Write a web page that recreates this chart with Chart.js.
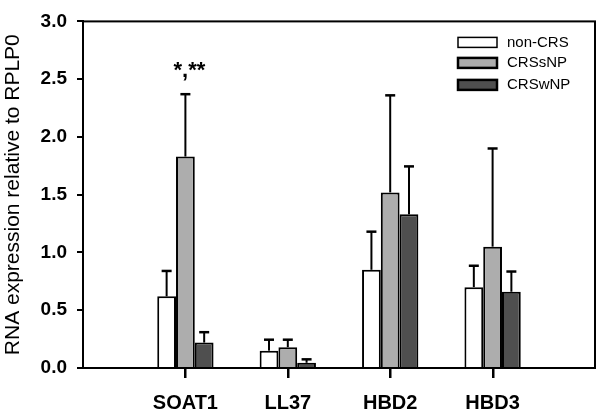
<!DOCTYPE html>
<html><head><meta charset="utf-8">
<script src="https://cdn.jsdelivr.net/npm/chart.js@4"></script>
<style>html,body{margin:0;padding:0;background:#fff}#wrap{width:601px;height:418px;position:relative}</style>
</head><body><div id="wrap"><canvas id="c"></canvas></div>
<script>
// ---- data ----
const categories = ['SOAT1', 'LL37', 'HBD2', 'HBD3'];
const seriesNames = ['non-CRS', 'CRSsNP', 'CRSwNP'];
const nonCRS = [0.62, 0.15, 0.85, 0.70];
const nonCRSErr = [0.22, 0.095, 0.33, 0.185];
const crsSNP = [1.83, 0.18, 1.52, 1.05];
const crsSNPErr = [0.54, 0.065, 0.84, 0.85];
const crsWNP = [0.22, 0.045, 1.33, 0.66];
const crsWNPErr = [0.09, 0.03, 0.415, 0.175];
const yTicks = [0, 0.5, 1.0, 1.5, 2.0, 2.5, 3.0];
const annotText = '*,**';
const annotCategory = 0;   // SOAT1
const annotSeries = 1;     // CRSsNP
const annotValue = 2.52;

const colors = ['#ffffff', '#adadad', '#4f4f4f'];
const pad = a => [null, ...a, null];
const labels = ['', ...categories, ''];

const SANS = "'Liberation Sans', Arial, sans-serif";

const errPlugin = {
  id: 'errbars',
  afterDatasetsDraw(chart) {
    const ctx = chart.ctx, ys = chart.scales.y;
    chart.data.datasets.forEach((ds, di) => {
      const meta = chart.getDatasetMeta(di);
      meta.data.forEach((bar, i) => {
        const v = ds.data[i], e = ds.errors[i];
        if (v == null || e == null) return;
        const x = bar.x, y0 = ys.getPixelForValue(v), y1 = ys.getPixelForValue(v + e);
        ctx.save();
        ctx.strokeStyle = '#000';
        ctx.lineWidth = 2;
        ctx.beginPath(); ctx.moveTo(x, y0); ctx.lineTo(x, y1); ctx.stroke();
        ctx.lineWidth = 2.5;
        ctx.beginPath(); ctx.moveTo(x - 5, y1); ctx.lineTo(x + 5, y1); ctx.stroke();
        ctx.restore();
      });
    });
    const bar = chart.getDatasetMeta(annotSeries).data[annotCategory + 1];
    ctx.save();
    ctx.fillStyle = '#000';
    ctx.font = "bold 22px " + SANS;
    ctx.textAlign = 'center';
    ctx.textBaseline = 'alphabetic';
    ctx.fillText(annotText, bar.x + 4, ys.getPixelForValue(annotValue));
    ctx.restore();
  },
  afterDraw(chart) {
    const ctx = chart.ctx, a = chart.chartArea, xs = chart.scales.x;
    ctx.save();
    ctx.strokeStyle = '#000';
    ctx.lineWidth = 2;
    ctx.strokeRect(a.left, a.top, a.right - a.left, a.bottom - a.top);
    // category tick marks
    ctx.fillStyle = '#000';
    for (let i = 1; i <= categories.length; i++) {
      let px = xs.getPixelForValue(i);
      if (!isFinite(px)) px = a.left + (a.right - a.left) * i / (labels.length - 1);
      ctx.fillRect(Math.round(px) - 1, a.bottom, 2.5, 10);
    }
    // legend
    const bx = a.right - 137, tx = a.right - 88;
    const rows = [a.top + 21, a.top + 41.5, a.top + 63.5];
    ctx.font = "15px " + SANS;
    ctx.textBaseline = 'middle';
    ctx.textAlign = 'left';
    seriesNames.forEach((n, i) => {
      ctx.fillStyle = colors[i];
      ctx.fillRect(bx, rows[i] - 5, 39, 10);
      ctx.lineWidth = i === 0 ? 1.5 : 2.5;
      ctx.strokeStyle = '#000';
      ctx.strokeRect(bx, rows[i] - 5, 39, 10);
      ctx.fillStyle = '#000';
      ctx.fillText(n, tx, rows[i]);
    });
    ctx.restore();
  }
};

new Chart(document.getElementById('c'), {
  type: 'bar',
  data: {
    labels: labels,
    datasets: [
      { label: seriesNames[0], data: pad(nonCRS), errors: pad(nonCRSErr), backgroundColor: colors[0] },
      { label: seriesNames[1], data: pad(crsSNP), errors: pad(crsSNPErr), backgroundColor: colors[1] },
      { label: seriesNames[2], data: pad(crsWNP), errors: pad(crsWNPErr), backgroundColor: colors[2] }
    ].map(d => Object.assign(d, { borderColor: '#000', borderWidth: 2, categoryPercentage: 0.55, barPercentage: 1 }))
  },
  options: {
    responsive: true,
    maintainAspectRatio: false,
    animation: false,
    events: [],
    layout: { padding: { top: 12, right: 6, left: 0, bottom: 0 } },
    plugins: { legend: { display: false }, tooltip: { enabled: false } },
    scales: {
      x: {
        offset: false,
        grid: { display: true, offset: false, drawOnChartArea: false, drawTicks: false },
        border: { display: true, color: '#000', width: 2 },
        ticks: { color: '#000', font: { family: SANS, size: 20, weight: 'bold' }, padding: 23, autoSkip: false, maxRotation: 0 },
        afterFit: s => { s.height = 50; s.paddingLeft = 0; s.paddingRight = 0; }
      },
      y: {
        min: 0, max: 3,
        afterBuildTicks: s => { s.ticks = yTicks.map(v => ({ value: v })); },
        grid: { drawOnChartArea: false, drawTicks: true, tickLength: 6, lineWidth: 2, color: '#000' },
        border: { display: true, color: '#000', width: 2 },
        ticks: { color: '#000', font: { family: SANS, size: 19, weight: 'bold' }, padding: 10, callback: v => Number(v).toFixed(1) },
        title: { display: true, text: 'RNA expression relative to RPLP0', color: '#000', font: { family: SANS, size: 21 }, padding: { top: 1, bottom: 0 } },
        afterFit: s => { s.width = 83; }
      }
    }
  },
  plugins: [errPlugin]
});
</script></body></html>
